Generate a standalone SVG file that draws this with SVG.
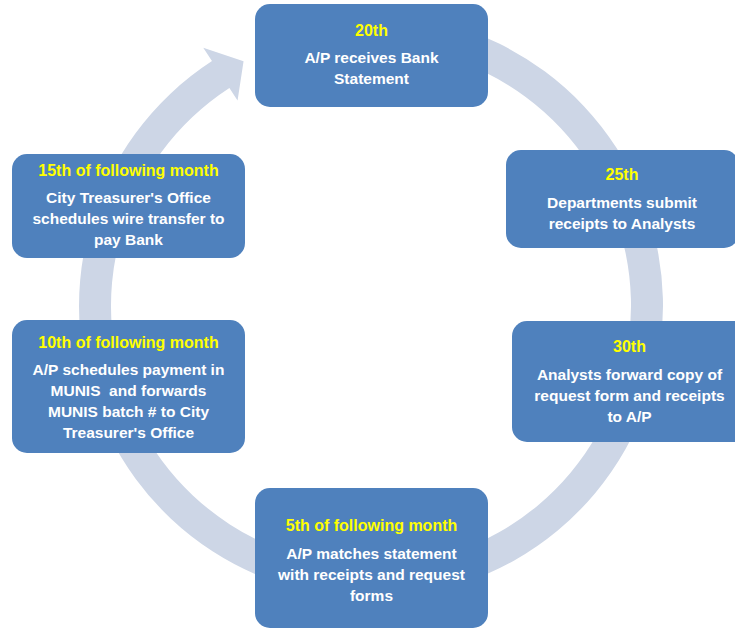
<svg xmlns="http://www.w3.org/2000/svg" width="735" height="629" viewBox="0 0 735 629">
<style>
.box{fill:#4F81BD;}
.ring{fill:#CDD6E6;}
text{font-family:"Liberation Sans",Arial,sans-serif;font-weight:bold;font-size:15.5px;text-anchor:middle;}
.t{fill:#FFFF00;font-size:16px;}
.b{fill:#FFFFFF;}
</style>
<rect width="735" height="629" fill="#FFFFFF"/>
<g id="connectors">
<path class="ring" d="M345.55,15.11 A292,292 0 0 1 466.07,582.09 A292,292 0 0 1 211.97,61.11 L203.25,47.69 L243.56,61.18 L237.56,100.53 L229.39,87.95 A260,260 0 0 0 455.65,551.84 A260,260 0 0 0 348.34,46.99 Z"/>
</g>
<g id="node-20th">
<rect class="box" x="255" y="4" width="233" height="103" rx="15"/>
<text class="t" x="371.5" y="36">20th</text>
<text class="b" x="371.5" y="63">A/P receives Bank</text>
<text class="b" x="371.5" y="84">Statement</text>
</g>
<g id="node-25th">
<rect class="box" x="506" y="150" width="233" height="98" rx="15"/>
<text class="t" x="622" y="180">25th</text>
<text class="b" x="622" y="208">Departments submit</text>
<text class="b" x="622" y="229">receipts to Analysts</text>
</g>
<g id="node-30th">
<rect class="box" x="512" y="321" width="236" height="121" rx="15"/>
<text class="t" x="629.5" y="352">30th</text>
<text class="b" x="629.5" y="380">Analysts forward copy of</text>
<text class="b" x="629.5" y="401">request form and receipts</text>
<text class="b" x="629.5" y="422">to A/P</text>
</g>
<g id="node-5th">
<rect class="box" x="255" y="488" width="233" height="140" rx="15"/>
<text class="t" x="371.5" y="531">5th of following month</text>
<text class="b" x="371.5" y="559">A/P matches statement</text>
<text class="b" x="371.5" y="580">with receipts and request</text>
<text class="b" x="371.5" y="601">forms</text>
</g>
<g id="node-10th">
<rect class="box" x="12" y="320" width="233" height="133" rx="15"/>
<text class="t" x="128.5" y="348">10th of following month</text>
<text class="b" x="128.5" y="375">A/P schedules payment in</text>
<text class="b" x="128.5" y="396" xml:space="preserve">MUNIS  and forwards</text>
<text class="b" x="128.5" y="417">MUNIS batch # to City</text>
<text class="b" x="128.5" y="438">Treasurer's Office</text>
</g>
<g id="node-15th">
<rect class="box" x="12" y="154" width="233" height="104" rx="15"/>
<text class="t" x="128.5" y="176">15th of following month</text>
<text class="b" x="128.5" y="203">City Treasurer's Office</text>
<text class="b" x="128.5" y="224">schedules wire transfer to</text>
<text class="b" x="128.5" y="245">pay Bank</text>
</g>
</svg>
